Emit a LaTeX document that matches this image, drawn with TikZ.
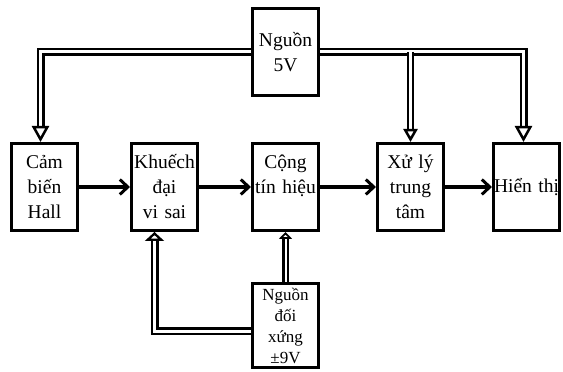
\documentclass[tikz,border=0pt]{standalone}
\usepackage{fontspec}
\setmainfont{Liberation Serif}
\usetikzlibrary{positioning,arrows.meta}
\begin{document}
\begin{tikzpicture}[main node/.style={rectangle,draw,line width=3pt,minimum width=66pt,minimum height=87pt,text width=66pt,inner sep=0pt,align=center,font=\fontsize{19.5}{25}\selectfont},
	signal/.style={line width=4pt,-{Straight Barb[length=8pt,width=15pt,line width=3pt]}},
	power line/.style={double,double distance=3pt,line width=2.5pt}]
	\useasboundingbox (0,0) rectangle (563pt,372pt);
	\node[main node] (Hall)						at (44.5pt,185pt)	{Cảm\\biến\\Hall};
	\node[main node] (Amp)		[right=51pt of Hall]	{Khuếch\\đại\\vi sai};
	\node[main node] (Sum)		[right=52pt of Amp]		{Cộng\\tín hiệu\\\mbox{}};
	\node[main node] (CPU)		[right=56pt of Sum]		{Xử lý\\trung\\tâm};
	\node[main node] (Display)	[right=47pt of CPU]		{Hiển~thị};
	\node[main node] (Supply)	[above=45pt of Sum]		{Nguồn\\5V};
	\node[main node,minimum height=84pt,font=\fontsize{17}{21}\selectfont] (Dual) [below=50pt of Sum] {Nguồn\\đối\\xứng\\±9V};

	\path[signal]
		(Hall)	edge (Amp)
		(Amp)	edge (Sum)
		(Sum)	edge (CPU)
		(CPU)	edge (Display);

	% nguon 5V
	\draw[power line,-{Triangle[open,line width=2.5pt,length=16pt,width=17pt]}] (Supply.west) -| ([xshift=-4pt]Hall.north);
	\draw[power line,-{Triangle[open,line width=2.5pt,length=16pt,width=17pt]}] (Supply.east) -| ([xshift=-3pt]Display.north);
	\draw[power line,double distance=2.5pt,-{Triangle[open,line width=2.5pt,length=13pt,width=14pt]}] (Supply.east -| CPU.north) -- (CPU.north);
	% nguon doi xung
	\draw[power line,double distance=2pt,-{Triangle[open,line width=2.5pt,length=7pt,width=13pt]}] (Dual) -- (Sum);
	\draw[power line,-{Triangle[open,line width=2.5pt,length=9pt,width=19pt]}] ([yshift=-6pt]Dual.west) -| ([xshift=-10pt]Amp.south);
\end{tikzpicture}
\end{document}
